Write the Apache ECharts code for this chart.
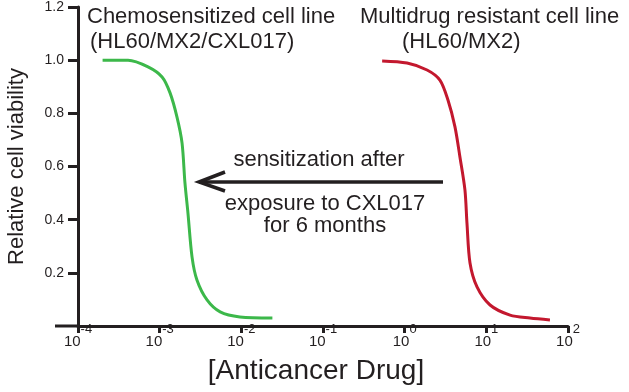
<!DOCTYPE html>
<html>
<head>
<meta charset="utf-8">
<script src="https://cdn.jsdelivr.net/npm/echarts@6/dist/echarts.min.js"></script>
<style>
  html, body { margin: 0; padding: 0; background: #fff; }
  #chart { width: 629px; height: 392px; }
</style>
</head>
<body>
<div id="chart"></div>
<script>
// drug concentration (x, log axis) and relative viability (y)
const sensitizedX = [2.0e-4, 4.1e-4, 7.2e-4, 1.07e-3, 1.34e-3, 1.63e-3, 1.88e-3, 2.04e-3, 2.22e-3, 2.49e-3, 2.86e-3, 3.8e-3, 5.5e-3, 9.6e-3, 2.4e-2];
const sensitizedY = [1.0, 1.0, 0.975, 0.937, 0.877, 0.786, 0.688, 0.538, 0.425, 0.26, 0.173, 0.098, 0.053, 0.034, 0.03];
const resistantX = [0.53, 1.07, 1.88, 2.7, 3.39, 4.13, 4.75, 5.47, 5.79, 6.31, 7.69, 11.1, 19.5, 34.2, 60.1];
const resistantY = [0.997, 0.989, 0.963, 0.925, 0.85, 0.749, 0.636, 0.512, 0.388, 0.237, 0.147, 0.079, 0.041, 0.03, 0.023];

const xMinExp = -4;
const xMaxExp = 2;
const yMin = 0;
const yMax = 1.2;
const yStep = 0.2;

const FONT = '"Liberation Sans", Arial, sans-serif';
const INK = '#231f20';

const chart = echarts.init(document.getElementById('chart'));

const zip = (xs, ys) => xs.map((x, i) => [x, ys[i]]);

// Annotation texts and arrow (not data marks), drawn on top of the axes
const note = (str, x, y, align) => ({
  type: 'text',
  z: 100,
  style: { text: str, x: x, y: y, align: align || 'left', verticalAlign: 'middle', font: '22px ' + FONT, fill: INK }
});

const option = {
  animation: false,
  grid: { left: 78, right: 61, top: 7, bottom: 66, outerBoundsMode: 'none' },
  xAxis: {
    type: 'log',
    logBase: 10,
    min: Math.pow(10, xMinExp),
    max: Math.pow(10, xMaxExp),
    interval: 1,
    name: '[Anticancer Drug]',
    nameLocation: 'middle',
    nameGap: 31,
    nameTextStyle: { fontSize: 28, color: INK, fontFamily: FONT, padding: [0, 14, 0, 0] },
    axisLine: { show: true, onZero: false, lineStyle: { color: INK, width: 3 } },
    axisTick: { show: true, length: 7, lineStyle: { color: INK, width: 3 } },
    axisLabel: {
      margin: 2,
      formatter: v => '{b|10}{s|' + Math.round(Math.log10(v)) + '}',
      rich: {
        b: { fontSize: 15, lineHeight: 15, padding: [12, 0, 0, 0], color: INK, fontFamily: FONT },
        s: { fontSize: 13, lineHeight: 15, padding: [0, 0, 12, 0], color: INK, fontFamily: FONT }
      }
    },
    splitLine: { show: false }
  },
  yAxis: {
    type: 'value',
    min: yMin,
    max: yMax,
    interval: yStep,
    name: 'Relative cell viability',
    nameLocation: 'middle',
    nameGap: 50,
    nameTextStyle: { fontSize: 22, color: INK, fontFamily: FONT },
    axisLine: { show: true, onZero: false, lineStyle: { color: INK, width: 3 } },
    axisTick: { show: true, length: 10, lineStyle: { color: INK, width: 3 } },
    axisLabel: {
      margin: 14,
      showMinLabel: false,
      formatter: v => v.toFixed(1),
      fontSize: 14,
      color: INK,
      fontFamily: FONT
    },
    splitLine: { show: false }
  },
  series: [
    {
      name: 'Chemosensitized',
      type: 'line',
      data: zip(sensitizedX, sensitizedY),
      showSymbol: false,
      smooth: 0.3,
      lineStyle: { color: '#3cb84a', width: 3 }
    },
    {
      name: 'Multidrug resistant',
      type: 'line',
      data: zip(resistantX, resistantY),
      showSymbol: false,
      smooth: 0.3,
      lineStyle: { color: '#c3182e', width: 3 }
    }
  ],
  graphic: [
    // short stub of the x axis left of the y axis
    { type: 'line', z: 100, shape: { x1: 55, y1: 326, x2: 79, y2: 326 }, style: { stroke: INK, lineWidth: 3 } },
    note('Chemosensitized cell line', 87, 17),
    note('(HL60/MX2/CXL017)', 90, 42),
    note('Multidrug resistant cell line', 360, 17),
    note('(HL60/MX2)', 402, 42),
    note('sensitization after', 319, 160, 'center'),
    note('exposure to CXL017', 325, 204, 'center'),
    note('for 6 months', 325, 226, 'center'),
    // arrow
    { type: 'line', z: 100, shape: { x1: 199, y1: 182, x2: 443, y2: 182 }, style: { stroke: INK, lineWidth: 3.5 } },
    { type: 'polyline', z: 100, shape: { points: [[225, 172], [199, 182], [225, 191]] }, style: { stroke: INK, lineWidth: 3.5, fill: 'none' } }
  ]
};

chart.setOption(option);
</script>
</body>
</html>
